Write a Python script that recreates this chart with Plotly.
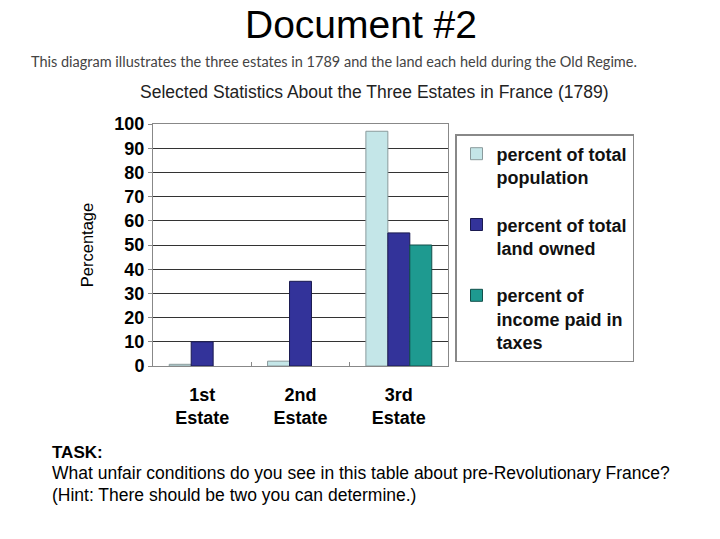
import plotly.graph_objects as go

categories = ["1st<br>Estate", "2nd<br>Estate", "3rd<br>Estate"]
population = [0.7, 2, 97]
land = [10, 35, 55]
taxes = [None, None, 50]
series_names = [
    "<b>percent of total<br>population</b>",
    "<b>percent of total<br>land owned</b>",
    "<b>percent of<br>income paid in<br>taxes</b>",
]
colors = ["#C4E6E8", "#33339A", "#1E9A90"]
outlines = ["#8A9A9C", "#1A1A50", "#124F4A"]
y_ticks = list(range(0, 101, 10))

L, R, T, B = 153, 448, 124, 366

fig = go.Figure()
for name, vals, c, oc in zip(series_names, [population, land, taxes], colors, outlines):
    fig.add_trace(go.Bar(
        x=categories, y=vals, name=name, legendgroup=name,
        marker=dict(color=c, line=dict(color=oc, width=1)),
    ))

fig.update_layout(
    width=720, height=539,
    paper_bgcolor="white", plot_bgcolor="white",
    margin=dict(l=L, r=720 - R, t=T, b=539 - B),
    barmode="group", bargap=0.33, bargroupgap=0,
    font=dict(family="Liberation Sans, Arial, sans-serif", color="#000"),
    showlegend=True,
    legend=dict(
        x=(455 - L) / (R - L), y=(B - 134) / (B - T), xanchor="left", yanchor="top",
        bordercolor="#888", borderwidth=1.5, bgcolor="white",
        font=dict(size=18, color="#111"),
        tracegroupgap=21, valign="top",
        itemwidth=30,
    ),
    xaxis=dict(
        showline=True, linecolor="#888", linewidth=1, mirror=True,
        tickfont=dict(size=18, weight="bold"),
        ticks="inside", tickson="boundaries", ticklen=4, tickcolor="#888",
        ticklabelstandoff=12,
    ),
    yaxis=dict(
        range=[0, 100], tickvals=y_ticks,
        showline=True, linecolor="#888", linewidth=1, mirror=True,
        showgrid=True, gridcolor="#333", gridwidth=1,
        tickfont=dict(size=18, weight="bold"),
        ticks="outside", ticklen=4, tickcolor="#888",
        title=dict(text="Percentage", font=dict(size=16.5), standoff=16),
    ),
)


def ann(text, x, y, size, family="Liberation Sans, Arial, sans-serif", color="#000", xanchor="left"):
    fig.add_annotation(
        text=text, xref="paper", yref="paper",
        x=(x - L) / (R - L), y=(B - y) / (B - T),
        xanchor=xanchor, yanchor="middle", showarrow=False,
        font=dict(size=size, family=family, color=color), align="left",
    )


ann("Document #2", 361, 25, 39, xanchor="center")
ann("This diagram illustrates the three estates in 1789 and the land each held during the Old Regime.",
    334, 61, 14.5, family="Lato, Open Sans, sans-serif", color="#444", xanchor="center")
ann("Selected Statistics About the Three Estates in France (1789)", 374, 92, 17.5, color="#222", xanchor="center")
ann("<b>TASK:</b>", 50, 452, 17)
ann("What unfair conditions do you see in this table about pre-Revolutionary France?", 50, 473, 17.5)
ann("(Hint: There should be two you can determine.)", 50, 495, 17.5)

fig.write_html(
    "out.html",
    config={"displayModeBar": False},
    post_script="document.body.style.margin='0';document.body.style.overflow='hidden';",
)
